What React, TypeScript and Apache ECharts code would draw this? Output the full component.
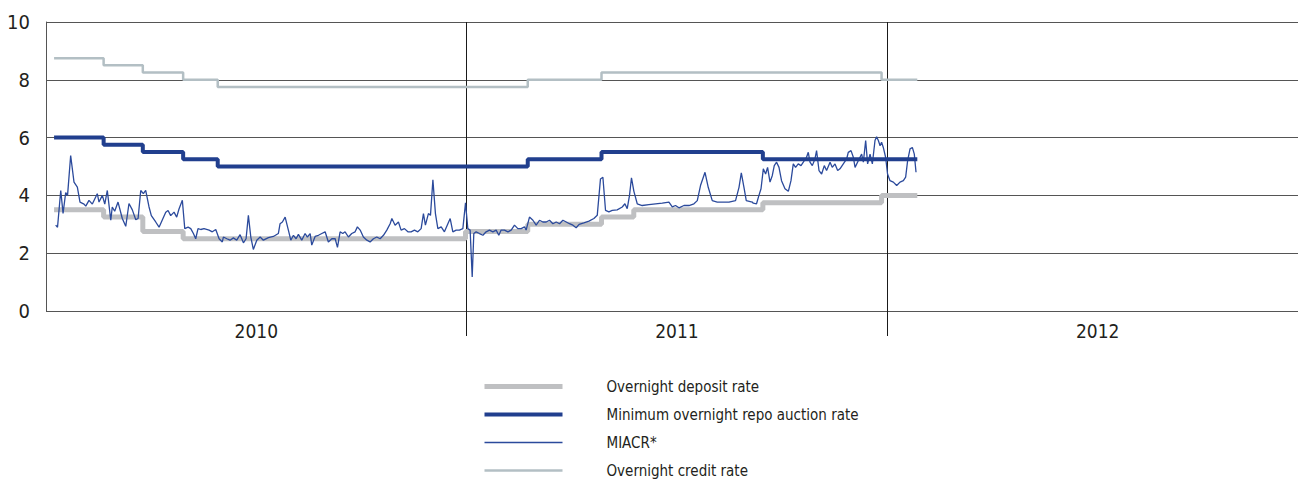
import React, { useEffect, useRef } from "react";
import * as echarts from "echarts";

// Year bands (category axis for labels and year separators)
const years = ["2010", "2011", "2012"];

// Day offsets are counted from 1 January 2010
const depositDays = [7, 50, 84, 119, 364, 418, 482, 510, 622, 725, 756];
const depositRates = [3.5, 3.25, 2.75, 2.5, 2.75, 3.0, 3.25, 3.5, 3.75, 4.0, 4.0];

const repoDays = [7, 50, 84, 119, 149, 418, 482, 622, 756];
const repoRates = [6.0, 5.75, 5.5, 5.25, 5.0, 5.25, 5.5, 5.25, 5.25];

const creditDays = [7, 50, 84, 119, 149, 418, 482, 725, 756];
const creditRates = [8.75, 8.5, 8.25, 8.0, 7.75, 8.0, 8.25, 8.0, 8.0];

// MIACR: [day offset, rate]
const miacr: [number, number][] = [
  [8.4, 2.97], [10.0, 2.9], [12.8, 4.17], [14.8, 3.38], [17.1, 4.1], [18.7, 4.0], [21.4, 5.38], [24.3, 4.46],
  [27.2, 4.29], [29.5, 3.77], [33.0, 3.7], [34.5, 3.63], [37.3, 3.83], [40.2, 3.7], [44.5, 4.06], [46.0, 3.77],
  [48.9, 4.0], [51.0, 3.7], [53.2, 4.17], [56.2, 3.14], [57.5, 3.6], [59.6, 3.45], [62.5, 3.77], [66.2, 3.2],
  [69.2, 2.93], [72.0, 3.72], [74.9, 3.5], [77.9, 3.16], [79.9, 3.2], [82.2, 4.17], [84.5, 4.06], [86.5, 4.17],
  [89.4, 3.6], [91.4, 3.3], [95.2, 3.08], [98.1, 2.9], [100.9, 3.15], [103.9, 3.42], [105.9, 3.48], [108.2, 3.3],
  [111.1, 3.42], [113.4, 3.25], [115.4, 3.53], [118.3, 3.83], [120.4, 2.85], [123.3, 2.9], [125.6, 2.85], [127.9, 2.68],
  [129.9, 2.5], [131.9, 2.85], [134.3, 2.82], [137.1, 2.85], [141.5, 2.8], [144.3, 2.74], [147.3, 2.82], [150.2, 2.5],
  [153.0, 2.39], [153.9, 2.56], [156.9, 2.5], [159.7, 2.45], [162.6, 2.53], [165.5, 2.45], [168.4, 2.64], [171.3, 2.36],
  [173.6, 2.5], [175.6, 3.31], [177.7, 2.56], [179.9, 2.13], [182.9, 2.45], [185.8, 2.56], [188.6, 2.45], [193.0, 2.54],
  [197.3, 2.58], [201.6, 2.68], [203.1, 3.02], [205.1, 3.08], [207.5, 3.25], [210.3, 2.8], [212.4, 2.45], [214.7, 2.62],
  [217.0, 2.5], [219.0, 2.65], [221.9, 2.45], [224.8, 2.68], [226.8, 2.56], [229.2, 2.68], [230.6, 2.28], [233.5, 2.58],
  [236.4, 2.62], [239.3, 2.68], [242.2, 2.74], [245.0, 2.39], [248.0, 2.5], [250.9, 2.5], [252.9, 2.2], [255.2, 2.74],
  [257.5, 2.68], [259.5, 2.74], [262.4, 2.56], [265.3, 2.68], [268.2, 2.74], [270.2, 2.91], [272.6, 2.8], [275.4, 2.56],
  [278.4, 2.45], [281.2, 2.39], [284.1, 2.5], [287.0, 2.56], [289.9, 2.5], [292.8, 2.62], [295.7, 2.8], [298.6, 3.02],
  [300.1, 3.2], [302.9, 2.97], [305.8, 3.08], [308.1, 2.8], [311.0, 2.85], [314.0, 2.74], [316.8, 2.74], [319.7, 2.8],
  [322.6, 2.74], [325.5, 2.85], [327.5, 3.37], [329.2, 2.97], [331.8, 3.37], [333.6, 3.31], [335.7, 4.54], [337.9, 3.37],
  [340.0, 2.85], [342.9, 2.91], [345.7, 2.74], [348.7, 3.02], [350.7, 3.2], [353.0, 2.74], [355.9, 2.8], [358.7, 2.8],
  [361.7, 2.85], [364.0, 3.74], [366.0, 2.85], [368.0, 2.8], [369.8, 1.18], [371.2, 2.68], [373.2, 2.74], [376.1, 2.68],
  [379.1, 2.62], [381.9, 2.74], [384.8, 2.8], [387.7, 2.74], [390.6, 2.8], [392.9, 2.62], [394.9, 2.8], [397.8, 2.8],
  [400.8, 2.74], [403.6, 2.8], [406.5, 2.97], [409.4, 2.85], [412.3, 2.85], [415.2, 2.91], [416.6, 2.8], [419.5, 3.25],
  [422.5, 3.14], [425.3, 2.97], [428.2, 3.14], [431.1, 3.08], [434.0, 3.08], [436.9, 3.14], [439.8, 3.02], [442.7, 3.08],
  [445.6, 3.02], [448.5, 3.14], [451.4, 3.08], [454.2, 3.02], [457.2, 2.97], [460.0, 2.88], [462.6, 3.0], [466.7, 3.05],
  [471.1, 3.11], [475.4, 3.2], [478.3, 3.31], [481.1, 4.57], [483.2, 4.63], [485.5, 3.48], [488.4, 3.43], [491.3, 3.48],
  [495.6, 3.5], [500.0, 3.6], [502.3, 3.71], [504.3, 3.54], [506.3, 4.0], [508.0, 4.61], [510.1, 4.14], [513.0, 3.71],
  [517.3, 3.65], [523.1, 3.68], [528.9, 3.71], [534.7, 3.73], [540.5, 3.77], [543.4, 3.6], [546.2, 3.65], [549.2, 3.57],
  [553.5, 3.65], [557.9, 3.65], [562.2, 3.71], [565.1, 3.82], [567.9, 4.34], [571.8, 4.8], [574.6, 4.28], [578.1, 3.82],
  [582.4, 3.77], [586.8, 3.77], [592.6, 3.77], [598.3, 3.82], [601.3, 4.28], [603.3, 4.78], [605.6, 4.28], [607.6, 3.82],
  [612.8, 3.77], [613.7, 3.73], [616.5, 3.71], [618.6, 4.0], [620.4, 4.23], [622.4, 4.92], [624.4, 4.74], [626.1, 4.97],
  [628.2, 4.46], [630.2, 4.69], [631.9, 5.03], [633.9, 5.15], [636.0, 4.97], [638.2, 4.51], [641.2, 4.23], [644.1, 4.14],
  [646.4, 4.51], [648.4, 5.09], [650.4, 4.97], [652.7, 5.09], [655.1, 5.03], [657.1, 5.15], [659.9, 5.32], [661.4, 5.49],
  [662.9, 5.15], [664.9, 5.03], [667.2, 5.26], [668.6, 5.55], [670.7, 4.86], [673.0, 4.74], [675.3, 5.03], [677.3, 4.86],
  [680.3, 5.15], [682.2, 4.97], [684.6, 5.09], [686.9, 4.86], [688.9, 4.92], [691.8, 5.09], [694.7, 5.26], [696.1, 5.49],
  [698.5, 5.55], [700.5, 5.32], [702.0, 4.97], [704.8, 5.2], [707.7, 5.43], [709.2, 5.15], [711.2, 5.9], [712.9, 5.09],
  [715.0, 5.43], [717.0, 5.09], [719.3, 5.9], [720.7, 6.03], [722.2, 5.9], [723.7, 5.72], [725.0, 5.84], [726.5, 5.66],
  [728.5, 5.32], [730.2, 4.74], [732.3, 4.51], [735.2, 4.46], [738.1, 4.34], [741.0, 4.46], [743.9, 4.51], [745.9, 4.63],
  [747.6, 5.2], [749.7, 5.61], [751.7, 5.66], [753.4, 5.43], [754.9, 4.8],
];

const toPairs = (days: number[], rates: number[]) => days.map((d, i) => [d, rates[i]]);

const FONT = "'DejaVu Sans Condensed', 'Liberation Sans Narrow', sans-serif";
const TEXT = "#231f20";

export default function App() {
  const ref = useRef<HTMLDivElement>(null);
  useEffect(() => {
    if (!ref.current) return;
    const chart = echarts.init(ref.current, null, { renderer: "svg" });
    chart.setOption({
      animation: false,
      textStyle: { fontFamily: FONT },
      grid: { left: 46, right: 2, top: 22, bottom: 168, containLabel: false },
      xAxis: [
        { type: "value", min: 0, max: 1095, show: false },
        {
          type: "category",
          data: years,
          position: "bottom",
          boundaryGap: true,
          axisLine: { show: false },
          axisTick: {
            show: true,
            length: 25,
            interval: (i: number) => i !== 0,
            lineStyle: { color: "#1a1a1a", width: 1 },
          },
          axisLabel: { margin: 10, fontSize: 19, color: TEXT, fontFamily: FONT },
          splitLine: {
            show: true,
            interval: (i: number) => i !== 0,
            lineStyle: { color: "#1a1a1a", width: 1 },
          },
        },
      ],
      yAxis: {
        type: "value",
        min: 0,
        max: 10,
        interval: 2,
        axisLine: { show: true, lineStyle: { color: "#555555", width: 1 } },
        axisTick: { show: false },
        axisLabel: { margin: 16, fontSize: 20, color: TEXT, fontFamily: FONT },
        splitLine: { show: true, lineStyle: { color: "#555555", width: 1 } },
      },
      legend: {
        orient: "vertical",
        left: 482,
        top: 379,
        height: 220,
        padding: 0,
        itemWidth: 78,
        itemHeight: 16,
        itemGap: 13,
        itemStyle: { opacity: 0 },
        lineStyle: { width: "inherit" },
        textStyle: { fontSize: 15, color: TEXT, fontFamily: FONT, padding: [0, 0, 0, 39] },
        data: [
          "Overnight deposit rate",
          "Minimum overnight repo auction rate",
          "MIACR*",
          "Overnight credit rate",
        ],
      },
      series: [
        {
          name: "Overnight deposit rate",
          type: "line",
          step: "end",
          symbol: "none",
          z: 2,
          color: "#bfc0c2",
          lineStyle: { color: "#bfc0c2", width: 5 },
          data: toPairs(depositDays, depositRates),
        },
        {
          name: "MIACR*",
          type: "line",
          symbol: "none",
          z: 3,
          color: "#2b4a9c",
          lineStyle: { color: "#2b4a9c", width: 1.3 },
          data: miacr,
        },
        {
          name: "Minimum overnight repo auction rate",
          type: "line",
          step: "end",
          symbol: "none",
          z: 4,
          color: "#213f8e",
          lineStyle: { color: "#213f8e", width: 4 },
          data: toPairs(repoDays, repoRates),
        },
        {
          name: "Overnight credit rate",
          type: "line",
          step: "end",
          symbol: "none",
          z: 2,
          color: "#b3bfc4",
          lineStyle: { color: "#b3bfc4", width: 2.5 },
          data: toPairs(creditDays, creditRates),
        },
      ],
    });
    return () => chart.dispose();
  }, []);
  return (
    <div
      ref={ref}
      style={{ position: "fixed", left: 0, top: 0, width: 1310, height: 479, background: "#ffffff" }}
    />
  );
}
